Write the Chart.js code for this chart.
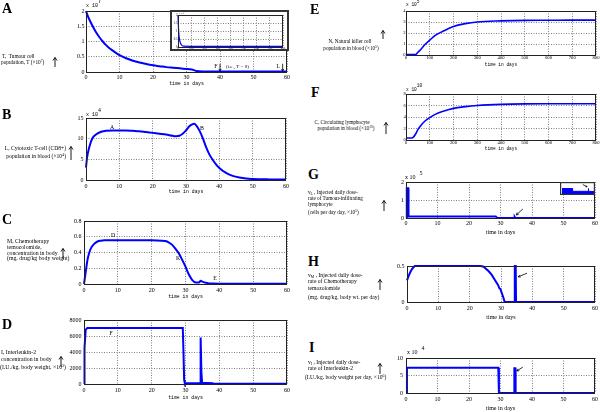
<!DOCTYPE html>
<html>
<head>
<meta charset="utf-8">
<script src="https://cdn.jsdelivr.net/npm/chart.js@4.4.0/dist/chart.umd.min.js"></script>
<style>
  body { margin: 0; width: 600px; height: 412px; overflow: hidden; background: #fff; position: relative; font-family: "Liberation Serif", serif; color: #000; }
  canvas { position: absolute; }
  .t { position: absolute; white-space: nowrap; }
  .L { position: absolute; font: bold 14px "Liberation Serif", serif; line-height: 14px; }
  sup { font-size: 70%; vertical-align: 0.5em; line-height: 0; }
  sub { font-size: 70%; vertical-align: -0.3em; line-height: 0; }
</style>
</head>
<body>
<script>
// A: tumour cells (x10^7) over 60 days, plus 800-day inset
const aDays = [0, 0.5, 1, 2, 3, 4, 5, 6, 7, 8, 10, 12, 14, 16, 18, 20, 22, 24, 26, 28, 30, 31, 32, 33, 35, 40, 50, 60];
const aTumour = [2.0, 1.85, 1.72, 1.5, 1.3, 1.14, 1.0, 0.88, 0.78, 0.7, 0.55, 0.45, 0.37, 0.31, 0.26, 0.22, 0.19, 0.16, 0.14, 0.12, 0.1, 0.09, 0.07, 0.03, 0.02, 0.02, 0.02, 0.02];
const aInsetDays = [0, 5, 10, 20, 30, 40, 100, 800];
const aInsetTumour = [2.0, 1.0, 0.55, 0.22, 0.1, 0.05, 0.04, 0.04];

// B: cytotoxic T-cells (x10^4)
const bDays = [0, 0.3, 1, 2, 3, 4, 6, 8, 10, 12, 14, 16, 18, 20, 22, 24, 26, 27, 28, 29, 30, 31, 32, 32.5, 33, 34, 35, 36, 37, 38, 39, 40, 42, 44, 46, 48, 50, 55, 60];
const bCd8 = [3.0, 5.3, 8.0, 10.2, 11.0, 11.5, 11.9, 12.0, 12.0, 12.0, 11.9, 11.8, 11.6, 11.4, 11.2, 11.0, 10.7, 10.6, 10.7, 11.2, 12.0, 13.0, 13.5, 13.6, 13.3, 12.0, 10.2, 8.0, 6.2, 4.9, 3.8, 2.9, 1.7, 1.0, 0.6, 0.35, 0.25, 0.15, 0.1];

// C: temozolomide concentration
const cDays = [0, 0.5, 1, 1.5, 2, 3, 4, 5, 6, 8, 10, 15, 20, 23, 24, 25, 26, 27, 28, 29, 30, 31, 32, 33, 34, 34.5, 35, 36, 37, 38, 40, 60];
const cTemo = [0, 0.15, 0.3, 0.39, 0.45, 0.51, 0.54, 0.55, 0.555, 0.555, 0.555, 0.555, 0.555, 0.55, 0.545, 0.53, 0.5, 0.45, 0.39, 0.31, 0.22, 0.12, 0.05, 0.02, 0.02, 0.04, 0.03, 0.015, 0.008, 0.005, 0.003, 0.003];

// D: interleukin-2 concentration
const dDays = [0, 0.1, 0.2, 0.5, 1, 29.2, 29.4, 29.6, 29.8, 34.3, 34.4, 34.55, 34.7, 34.9, 38, 38.2, 60];
const dIl2 = [0, 0, 4500, 6800, 7000, 7000, 4000, 500, 100, 100, 2000, 5800, 1500, 150, 100, 20, 20];

// E: natural killer cells (x10^5), F: circulating lymphocytes (x10^10), 800 days
const eDays = [0, 40, 50, 60, 80, 100, 125, 150, 200, 250, 300, 400, 500, 600, 700, 800];
const eNk = [0.05, 0.05, 0.25, 0.45, 0.95, 1.35, 1.8, 2.1, 2.6, 2.85, 3.0, 3.1, 3.15, 3.16, 3.17, 3.17];
const fDays = [0, 25, 30, 40, 50, 60, 80, 100, 125, 150, 200, 250, 300, 400, 500, 600, 700, 800];
const fLymph = [0.35, 0.35, 0.45, 1.0, 1.8, 2.4, 3.3, 3.9, 4.5, 4.9, 5.5, 5.8, 6.0, 6.2, 6.28, 6.3, 6.3, 6.3];

// G: TIL dose rate (x10^5), with zoomed inset
const gDays = [0, 0.2, 0.3, 0.7, 0.8, 28.5, 29, 34.3, 34.5, 34.7, 60];
const gTil = [0, 1.65, 1.65, 1.65, 0.08, 0.08, 0, 0, 0.06, 0, 0];
const gInsetDays = [0, 9.7, 9.9, 24.4, 24.7, 25.0, 30];
const gInsetTil = [0.55, 0.55, 0.27, 0.27, 0.55, 0.27, 0.25];

// H: temozolomide dose rate
const hDays = [0, 0.5, 1, 1.5, 2, 2.5, 23.5, 24.5, 25, 26, 27, 28, 29, 29.5, 29.8, 30.2, 30.7, 31.1, 31.3, 34.3, 34.4, 34.7, 34.8, 60];
const hTemo = [0.3, 0.36, 0.41, 0.45, 0.48, 0.5, 0.5, 0.49, 0.47, 0.43, 0.38, 0.31, 0.24, 0.19, 0.18, 0.13, 0.07, 0.01, 0, 0, 0.5, 0.5, 0, 0];

// I: interleukin-2 dose rate (x10^4)
const iDays = [0, 0.3, 0.31, 29.3, 29.5, 34.3, 34.4, 34.7, 34.8, 60];
const iIl2 = [0, 0, 7.2, 7.2, 0, 0, 7.1, 7.1, 0, 0];

const BLUE = '#0000ff';
const SERIF = '"Liberation Serif", serif';
const MONO = '"Liberation Mono", monospace';

function boxPlugin(o) {
  return {
    id: 'box',
    beforeDraw(chart) {
      if (!o.bg) return;
      chart.ctx.save();
      chart.ctx.fillStyle = '#fff';
      chart.ctx.fillRect(0, 0, chart.width, chart.height);
      chart.ctx.restore();
    },
    afterDraw(chart) {
      const { ctx, chartArea: a } = chart;
      ctx.save();
      if (o.inner !== false) {
        ctx.strokeStyle = '#222';
        ctx.lineWidth = 1;
        const L = Math.round(a.left), T = Math.round(a.top), R = Math.round(a.right), B = Math.round(a.bottom);
        ctx.strokeRect(L + 0.5, T + 0.5, R - L - 1, B - T);
      }
      if (o.outer) {
        ctx.strokeStyle = '#333';
        ctx.lineWidth = o.outer;
        ctx.strokeRect(o.outer / 2, o.outer / 2, chart.width - o.outer, chart.height - o.outer);
      }
      ctx.restore();
    }
  };
}

function notesPlugin(n) {
  return {
    id: 'notes',
    afterDatasetsDraw(chart) {
      const { ctx } = chart;
      const px = v => chart.scales.x.getPixelForValue(v);
      const py = v => chart.scales.y.getPixelForValue(v);
      ctx.save();
      ctx.fillStyle = '#000';
      ctx.strokeStyle = '#000';
      ctx.lineWidth = 0.8;
      ctx.textBaseline = 'middle';
      (n.texts || []).forEach(t => {
        ctx.font = (t.size || 5.8) + 'px ' + SERIF;
        ctx.textAlign = t.align || 'center';
        ctx.fillText(t.text, px(t.x), py(t.y));
      });
      (n.arrows || []).forEach(a => {
        const x1 = px(a.x1), y1 = py(a.y1), x2 = px(a.x2), y2 = py(a.y2);
        const ang = Math.atan2(y2 - y1, x2 - x1), h = a.head || 2.5;
        ctx.beginPath();
        ctx.moveTo(x1, y1);
        ctx.lineTo(x2, y2);
        ctx.moveTo(x2 - h * Math.cos(ang - 0.5), y2 - h * Math.sin(ang - 0.5));
        ctx.lineTo(x2, y2);
        ctx.lineTo(x2 - h * Math.cos(ang + 0.5), y2 - h * Math.sin(ang + 0.5));
        ctx.stroke();
      });
      ctx.restore();
    }
  };
}

function plot(p) {
  const yw = p.yw ?? 24, pt = p.pt ?? 8, pr = p.pr ?? 8;
  const xh = p.xh ?? Math.round(p.titleY + p.titleSize * 0.6 - p.b);
  const left = p.l - yw, top = p.t - pt;
  const cv = document.createElement('canvas');
  cv.width = p.r + pr - left;
  cv.height = p.b + xh - top;
  cv.style.left = left + 'px';
  cv.style.top = top + 'px';
  document.body.appendChild(cv);

  const tickFont = { family: p.tickFamily || SERIF, size: p.tickSize || 6 };
  const axis = (r, fit) => ({
    type: 'linear', min: r[0], max: r[1], display: p.axes !== false,
    afterFit: fit,
    ticks: { stepSize: r[2], font: tickFont, color: '#000', padding: p.tickPad ?? 2, maxRotation: 0, autoSkip: false,
             callback: v => String(+v.toFixed(3)) },
    grid: { color: '#808080', lineWidth: 1, drawTicks: false },
    border: { display: false, dash: [1, 1.5] }
  });
  const xAxis = axis(p.xr, s => { s.height = xh; });
  const yAxis = axis(p.yr, s => { s.width = yw; });
  if (p.titleY) {
    xAxis.title = { display: true, text: 'time in days', color: '#000', padding: 0,
                    font: { family: p.titleFamily || MONO, size: p.titleSize } };
  }

  new Chart(cv, {
    type: 'line',
    data: {
      datasets: p.series.map(s => ({
        data: s.x.map((x, i) => ({ x, y: s.y[i] })),
        borderColor: BLUE,
        backgroundColor: BLUE,
        borderWidth: s.width || 2,
        pointRadius: 0,
        fill: s.fill ? 'origin' : false,
        cubicInterpolationMode: s.smooth ? 'monotone' : 'default',
        tension: 0,
        clip: 3
      }))
    },
    options: {
      responsive: false,
      animation: false,
      layout: { padding: { left: 0, right: pr, top: pt, bottom: 0 } },
      plugins: { legend: { display: false }, tooltip: { enabled: false } },
      scales: { x: xAxis, y: yAxis }
    },
    plugins: [boxPlugin(p.box || {}), notesPlugin(p.notes || {})]
  });
}

function txt(x, cy, html, size, o = {}) {
  const d = document.createElement('div');
  d.className = 't';
  d.innerHTML = html;
  d.style.fontSize = size + 'px';
  d.style.lineHeight = size + 'px';
  d.style.top = (cy - size / 2) + 'px';
  if (o.family) d.style.fontFamily = o.family;
  if (o.align === 'right') d.style.right = (600 - x) + 'px';
  else if (o.align === 'center') { d.style.left = x + 'px'; d.style.transform = 'translateX(-50%)'; }
  else d.style.left = x + 'px';
  document.body.appendChild(d);
}

function letter(x, top, ch) {
  const d = document.createElement('div');
  d.className = 'L';
  d.textContent = ch;
  d.style.left = x + 'px';
  d.style.top = top + 'px';
  document.body.appendChild(d);
}

function upArrow(x, top, bottom) {
  const h = bottom - top;
  const d = document.createElement('div');
  d.style.cssText = `position:absolute;left:${x - 3}px;top:${top}px;width:6px;height:${h}px`;
  d.innerHTML = `<svg width="6" height="${h}"><line x1="3" y1="0.5" x2="3" y2="${h}" stroke="#000" stroke-width="0.9"/>` +
    `<path d="M1 3.5 L3 0.5 L5 3.5" fill="none" stroke="#000" stroke-width="0.9"/></svg>`;
  document.body.appendChild(d);
}

function expo(x, cy, power, size, family) {
  txt(x, cy, 'x 10', size, { family });
  txt(x + size * 2.4, cy - size * 0.75, power, size, { family });
}

// ---- left column ----
plot({
  l: 86, t: 11, r: 287, b: 72, titleY: 84, titleSize: 4.8, tickPad: 1.5,
  xr: [0, 60, 10], yr: [0, 2, 0.5],
  series: [{ x: aDays, y: aTumour, smooth: true }],
  notes: {
    texts: [{ x: 38.8, y: 0.17, text: 'F' }, { x: 41.8, y: 0.17, text: '(i.e., T = 0)', align: 'left', size: 5 },
            { x: 57.4, y: 0.17, text: 'L' }],
    arrows: [{ x1: 40, y1: 0.27, x2: 40, y2: 0.03 }, { x1: 58.7, y1: 0.27, x2: 58.7, y2: 0.03 }]
  }
});
plot({
  l: 178, t: 15, r: 283, b: 47, yw: 8, pt: 5, pr: 6, xh: 4, tickSize: 3, tickPad: 0.5,
  xr: [0, 800, 100], yr: [0, 2, 0.5],
  series: [{ x: aInsetDays, y: aInsetTumour, smooth: true, width: 1.2 }],
  box: { bg: true, outer: 2 }
});
txt(179, 13, 'x 10<sup>7</sup>', 2.5);

plot({
  l: 86, t: 118, r: 286, b: 180, titleY: 192, titleSize: 4.8, tickPad: 2.4,
  xr: [0, 60, 10], yr: [0, 15, 5],
  series: [{ x: bDays, y: bCd8, smooth: true }],
  notes: { texts: [{ x: 7.8, y: 12.6, text: 'A' }, { x: 34.8, y: 12.4, text: 'B' }] }
});
plot({
  l: 84, t: 221, r: 287, b: 284, titleY: 297, titleSize: 4.8, tickPad: 2.4,
  xr: [0, 60, 10], yr: [0, 0.8, 0.2],
  series: [{ x: cDays, y: cTemo, smooth: true }],
  notes: { texts: [{ x: 8.6, y: 0.62, text: 'D' }, { x: 27.8, y: 0.33, text: 'K' }, { x: 38.7, y: 0.076, text: 'E' }] }
});
plot({
  l: 84, t: 320, r: 287, b: 384, titleY: 398, titleSize: 4.8, tickPad: 2.4,
  xr: [0, 60, 10], yr: [0, 8000, 2000],
  series: [{ x: dDays, y: dIl2 }],
  notes: { texts: [{ x: 8, y: 6375, text: 'F' }] }
});

// ---- right column ----
plot({
  l: 406, t: 11, r: 596, b: 55, titleY: 65, titleSize: 4.5, tickSize: 4.6, tickPad: 0.5,
  xr: [0, 800, 100], yr: [0, 4, 1],
  series: [{ x: eDays, y: eNk, smooth: true, width: 1.6 }]
});
plot({
  l: 406, t: 94, r: 596, b: 140, titleY: 149, titleSize: 4.5, tickSize: 4.6, tickPad: 0.3,
  xr: [0, 800, 100], yr: [0, 8, 2],
  series: [{ x: fDays, y: fLymph, smooth: true, width: 1.6 }]
});
plot({
  l: 406, t: 182, r: 595, b: 218, titleY: 232, titleSize: 6, titleFamily: SERIF, tickSize: 6, tickPad: 2,
  xr: [0, 60, 10], yr: [0, 2, 1],
  series: [{ x: gDays, y: gTil }],
  notes: { arrows: [{ x1: 37.1, y1: 0.5, x2: 35, y2: 0.17 }] }
});
plot({
  l: 562, t: 184, r: 594, b: 194, yw: 2, pt: 2, pr: 1, xh: 1, axes: false,
  xr: [0, 30, 10], yr: [0, 1, 0.5],
  series: [{ x: gInsetDays, y: gInsetTil, fill: true, width: 1 }],
  box: { bg: true, outer: 1.2, inner: false },
  notes: { arrows: [{ x1: 19.5, y1: 0.95, x2: 23.5, y2: 0.72, head: 1.5 }] }
});
plot({
  l: 407, t: 266, r: 595, b: 302, titleY: 317, titleSize: 6, titleFamily: SERIF, tickSize: 6, tickPad: 2.4,
  xr: [0, 60, 10], yr: [0, 0.5, 0.5],
  series: [{ x: hDays, y: hTemo }],
  notes: { arrows: [{ x1: 38.3, y1: 0.4, x2: 35.5, y2: 0.35 }] }
});
plot({
  l: 406, t: 358, r: 595, b: 393, titleY: 408, titleSize: 6, titleFamily: SERIF, tickSize: 6, tickPad: 3,
  xr: [0, 60, 10], yr: [0, 10, 5],
  series: [{ x: iDays, y: iIl2 }],
  notes: { arrows: [{ x1: 37.1, y1: 7.4, x2: 35.2, y2: 6.3 }] }
});

// exponent markers
expo(86, 6, '7', 5, MONO);
expo(86, 115, '4', 5, MONO);
expo(406, 5.5, '5', 4.5, MONO);
expo(406, 90, '10', 4.5, MONO);
expo(405, 177, '5', 6, SERIF);
expo(407, 352, '4', 6, SERIF);

// panel letters
letter(2, 2, 'A');
letter(2, 108, 'B');
letter(2, 213, 'C');
letter(2, 318, 'D');
letter(310, 3, 'E');
letter(311, 86, 'F');
letter(308, 168, 'G');
letter(308, 255, 'H');
letter(309, 341, 'I');

// axis descriptions
txt(2, 57, 'T,&nbsp; Tumour cell', 5.3);
txt(1, 62.5, 'population, T (×10<sup>7</sup>)', 5.3);
upArrow(55, 53, 63);

txt(66, 149, 'L, Cytotoxic T-cell (CD8+)', 5.6, { align: 'right' });
txt(66, 156.5, 'population in blood (×10<sup>4</sup>)', 5.6, { align: 'right' });
upArrow(71, 146, 160);

txt(7, 242, 'M, Chemotherapy', 5.8);
txt(7, 247.7, 'temozolomide,', 5.8);
txt(7, 253.4, 'concentration in body', 5.8);
txt(7, 259.1, '(mg. drug/kg body weight)', 5.8);
upArrow(63, 245, 256);

txt(1, 353, 'I, Interleukin-2', 5.8);
txt(1, 359.5, 'concentration in body', 5.8);
txt(0, 368, '(I.U./kg. body weight, ×10<sup>3</sup>)', 5.8);
upArrow(61, 353, 364);

txt(350, 42, 'N, Natural killer cell', 5.2, { align: 'center' });
txt(351, 48.5, 'population in blood (×10<sup>5</sup>)', 5.2, { align: 'center' });
upArrow(383, 25, 34);

txt(342, 122.5, 'C, Circulating lymphocyte', 5.2, { align: 'center' });
txt(346, 128.5, 'population in blood (×10<sup>10</sup>)', 5.2, { align: 'center' });
upArrow(386, 120, 132);

txt(308, 193, 'v<sub>L</sub> , Injected daily dose-', 5.2);
txt(308, 199, 'rate of Tumour-infiltrating', 5.2);
txt(308, 204.5, 'lymphocyte', 5.2);
txt(308, 212.5, '(cells per day day, ×10<sup>5</sup>)', 5.2);
upArrow(384, 197, 208);

txt(308, 276, 'v<sub>M</sub> , Injected daily dose-', 5.6);
txt(308, 282, 'rate of Chemotherapy', 5.6);
txt(308, 288.5, 'temozolomide', 5.6);
txt(308, 297.5, '(mg. drug/kg. body wt. per day)', 5.6);
upArrow(380, 276, 287);

txt(308, 363, 'v<sub>I</sub> , Injected daily dose-', 5.6);
txt(308, 369, 'rate of Interleukin-2', 5.6);
txt(305, 378, '(I.U./kg. body weight per day, ×10<sup>6</sup>)', 5.6);
upArrow(380, 360, 371);
</script>
</body>
</html>
